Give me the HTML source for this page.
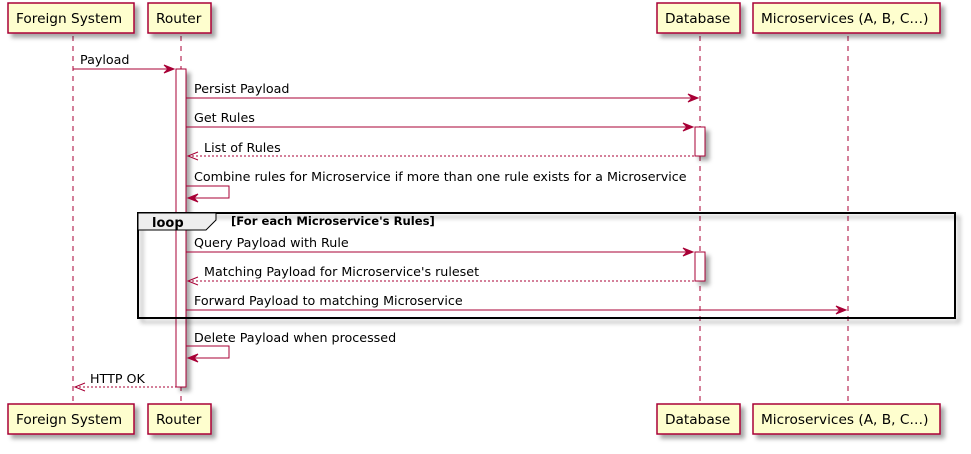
<!DOCTYPE html>
<html><head><meta charset="utf-8"><style>html,body{margin:0;padding:0;background:#fff}svg{display:block}text{font-family:"DejaVu Sans","Liberation Sans",sans-serif;font-size:12.7px;fill:#000}</style></head><body>
<svg width="971" height="454" viewBox="0 0 971 454" xmlns="http://www.w3.org/2000/svg">
<defs><filter id="sh" x="-10%" y="-10%" width="130%" height="140%"><feDropShadow dx="4" dy="4" stdDeviation="2" flood-color="#000" flood-opacity="0.35"/></filter></defs>
<g stroke="#A80036" stroke-width="1" stroke-dasharray="5,5">
<line x1="73" y1="36" x2="73" y2="403"/><line x1="181" y1="36" x2="181" y2="403"/><line x1="700" y1="36" x2="700" y2="403"/><line x1="848" y1="36" x2="848" y2="403"/>
</g>
<g fill="#FEFECE" stroke="#A80036" stroke-width="1.5" filter="url(#sh)">
<rect x="8" y="3" width="126" height="30"/><rect x="148" y="3" width="63" height="30"/><rect x="657" y="3" width="83" height="30"/><rect x="753" y="3" width="187" height="30"/>
<rect x="8" y="404" width="126" height="30"/><rect x="148" y="404" width="63" height="30"/><rect x="657" y="404" width="83" height="30"/><rect x="753" y="404" width="187" height="30"/>
</g>
<text x="16" y="23" style="font-size:13.7px">Foreign System</text><text x="156" y="23" style="font-size:13.7px">Router</text><text x="665" y="23" style="font-size:13.7px">Database</text><text x="761" y="23" style="font-size:13.7px">Microservices (A, B, C…)</text>
<text x="16" y="424" style="font-size:13.7px">Foreign System</text><text x="156" y="424" style="font-size:13.7px">Router</text><text x="665" y="424" style="font-size:13.7px">Database</text><text x="761" y="424" style="font-size:13.7px">Microservices (A, B, C…)</text>
<g fill="#fff" stroke="#A80036" stroke-width="1" filter="url(#sh)">
<rect x="176" y="69" width="10" height="318"/>
<rect x="695" y="127" width="10" height="29"/>
<rect x="695" y="252" width="10" height="29"/>
</g>
<g filter="url(#sh)"><rect x="138" y="213" width="817" height="105" fill="none" stroke="#000" stroke-width="2"/></g>
<path d="M138 213 H216 V220 L206 230 H138 Z" fill="#EEEEEE" stroke="#000" stroke-width="1"/>
<text x="152" y="227" style="font-weight:bold;font-size:13px">loop</text>
<text x="231" y="225" style="font-weight:bold;font-size:11.6px">[For each Microservice's Rules]</text>
<g stroke="#A80036" stroke-width="1" fill="none">
<line x1="73" y1="69" x2="174" y2="69"/>
<line x1="186" y1="98" x2="698" y2="98"/>
<line x1="186" y1="127" x2="693" y2="127"/>
<line x1="188" y1="156" x2="695" y2="156" stroke-dasharray="2,2"/>
<polyline points="186,186 229,186 229,198 188,198"/>
<line x1="186" y1="252" x2="693" y2="252"/>
<line x1="188" y1="281" x2="695" y2="281" stroke-dasharray="2,2"/>
<line x1="186" y1="310" x2="846" y2="310"/>
<polyline points="186,346 229,346 229,358 188,358"/>
<line x1="75" y1="387" x2="176" y2="387" stroke-dasharray="2,2"/>
<polyline points="198,152 188,156 198,160"/>
<polyline points="198,277 188,281 198,285"/>
<polyline points="85,383 75,387 85,391"/>
</g>
<g fill="#A80036" stroke="#A80036" stroke-width="1">
<polygon points="174,69 164,65 168,69 164,73"/>
<polygon points="698,98 688,94 692,98 688,102"/>
<polygon points="693,127 683,123 687,127 683,131"/>
<polygon points="188,198 198,194 194,198 198,202"/>
<polygon points="693,252 683,248 687,252 683,256"/>
<polygon points="846,310 836,306 840,310 836,314"/>
<polygon points="188,358 198,354 194,358 198,362"/>
</g>
<text x="80" y="64">Payload</text>
<text x="194" y="93">Persist Payload</text>
<text x="194" y="122">Get Rules</text>
<text x="204" y="152">List of Rules</text>
<text x="194" y="181">Combine rules for Microservice if more than one rule exists for a Microservice</text>
<text x="194" y="247">Query Payload with Rule</text>
<text x="204" y="276">Matching Payload for Microservice's ruleset</text>
<text x="194" y="305">Forward Payload to matching Microservice</text>
<text x="194" y="342">Delete Payload when processed</text>
<text x="90" y="383">HTTP OK</text>
</svg>
</body></html>
